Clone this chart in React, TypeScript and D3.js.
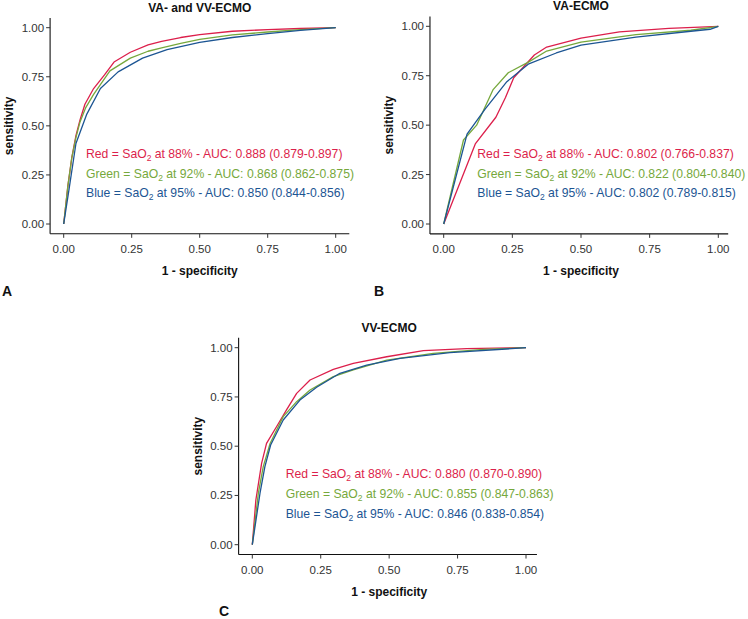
import React from "react";
import * as d3 from "d3";

type Pt = [number, number];

// Panel A: VA- and VV-ECMO
const redA: Pt[] = [[0,0],[0.015,0.19],[0.03,0.34],[0.045,0.45],[0.06,0.53],[0.078,0.61],[0.11,0.69],[0.15,0.76],[0.185,0.825],[0.245,0.875],[0.31,0.912],[0.36,0.93],[0.43,0.95],[0.5,0.965],[0.62,0.982],[0.75,0.99],[0.87,0.996],[1,1]];
const greenA: Pt[] = [[0,0],[0.015,0.19],[0.03,0.34],[0.045,0.44],[0.06,0.52],[0.08,0.59],[0.11,0.66],[0.17,0.78],[0.245,0.845],[0.31,0.88],[0.36,0.897],[0.43,0.92],[0.5,0.94],[0.62,0.963],[0.75,0.978],[0.87,0.99],[1,1]];
const blueA: Pt[] = [[0,0],[0.02,0.18],[0.045,0.41],[0.085,0.56],[0.135,0.69],[0.2,0.775],[0.29,0.845],[0.38,0.888],[0.5,0.925],[0.62,0.95],[0.75,0.97],[0.87,0.986],[1,1]];

// Panel B: VA-ECMO
const redB: Pt[] = [[0,0],[0.115,0.405],[0.19,0.54],[0.225,0.64],[0.255,0.74],[0.33,0.855],[0.375,0.895],[0.5,0.94],[0.64,0.972],[0.82,0.99],[1,1]];
const greenB: Pt[] = [[0,0],[0.072,0.425],[0.12,0.5],[0.18,0.68],[0.235,0.765],[0.31,0.82],[0.375,0.875],[0.5,0.92],[0.7,0.958],[0.9,0.98],[1,1]];
const blueB: Pt[] = [[0,0],[0.085,0.455],[0.15,0.58],[0.23,0.72],[0.31,0.81],[0.41,0.865],[0.5,0.905],[0.7,0.945],[0.9,0.975],[0.97,0.985],[1,1]];

// Panel C: VV-ECMO
const redC: Pt[] = [[0,0],[0.013,0.227],[0.034,0.413],[0.052,0.514],[0.089,0.6],[0.125,0.684],[0.162,0.768],[0.211,0.836],[0.296,0.89],[0.369,0.92],[0.491,0.954],[0.625,0.985],[0.783,0.995],[1,1]];
const greenC: Pt[] = [[0,0],[0.022,0.26],[0.04,0.396],[0.065,0.514],[0.113,0.65],[0.162,0.726],[0.211,0.785],[0.296,0.853],[0.369,0.887],[0.491,0.937],[0.661,0.971],[0.844,0.992],[1,1]];
const blueC: Pt[] = [[0,0],[0.028,0.26],[0.046,0.396],[0.067,0.506],[0.113,0.633],[0.174,0.734],[0.235,0.799],[0.32,0.87],[0.418,0.912],[0.54,0.946],[0.722,0.975],[1,1]];

const ticks = [0, 0.25, 0.5, 0.75, 1];
const tickLabels = ["0.00", "0.25", "0.50", "0.75", "1.00"];

const seriesNames = ["Red", "Green", "Blue"];
const thresholds = ["88%", "92%", "95%"];
const aucA = ["0.888 (0.879-0.897)", "0.868 (0.862-0.875)", "0.850 (0.844-0.856)"];
const aucB = ["0.802 (0.766-0.837)", "0.822 (0.804-0.840)", "0.802 (0.789-0.815)"];
const aucC = ["0.880 (0.870-0.890)", "0.855 (0.847-0.863)", "0.846 (0.838-0.854)"];

const colors = ["#dc1f4b", "#76a83c", "#1c5593"];

const FONT = "'Liberation Sans', Arial, Helvetica, sans-serif";

interface PanelCfg {
  title: string;
  letter: string;
  curves: Pt[][];
  auc: string[];
  x0: number; x1: number;
  y0: number; y1: number;
  xAxisEnd: number;
  legendX: number; legendY: number; legendStep: number;
  letterX: number; letterY: number;
}

const panels: PanelCfg[] = [
  { title: "VA- and VV-ECMO", letter: "A", curves: [redA, greenA, blueA], auc: aucA,
    x0: 63.7, x1: 335.7, y0: 224, y1: 27.7, xAxisEnd: 1.05,
    legendX: 86, legendY: 154, legendStep: 19.5, letterX: 2, letterY: 296 },
  { title: "VA-ECMO", letter: "B", curves: [redB, greenB, blueB], auc: aucB,
    x0: 443.7, x1: 718.3, y0: 224, y1: 26.3, xAxisEnd: 1.036,
    legendX: 477.3, legendY: 154, legendStep: 19.5, letterX: 374, letterY: 296 },
  { title: "VV-ECMO", letter: "C", curves: [redC, greenC, blueC], auc: aucC,
    x0: 252.3, x1: 526, y0: 544.7, y1: 347.7, xAxisEnd: 1.04,
    legendX: 285.7, legendY: 474, legendStep: 20, letterX: 219, letterY: 616 },
];

function Panel({ p }: { p: PanelCfg }) {
  const x = d3.scaleLinear().domain([0, 1]).range([p.x0, p.x1]);
  const y = d3.scaleLinear().domain([0, 1]).range([p.y0, p.y1]);
  const line = d3.line<Pt>().x((d) => x(d[0])).y((d) => y(d[1]));
  const axX = x(-0.05);
  const axY = y(-0.05);
  const tickLen = 4;
  return (
    <g>
      <text x={(x(-0.05) + x(1.05)) / 2} y={y(1.05) - 6} textAnchor="middle" fontFamily={FONT} fontWeight="bold" fontSize={12} fill="#111">{p.title}</text>
      {p.curves.map((c, i) => (
        <path key={i} d={line(c) || ""} fill="none" stroke={colors[i]} strokeWidth={1.3} strokeLinejoin="round" />
      ))}
      <line x1={axX} x2={axX} y1={y(1.05)} y2={axY} stroke="#111" strokeWidth={1.1} />
      <line x1={axX} x2={x(p.xAxisEnd)} y1={axY} y2={axY} stroke="#111" strokeWidth={1.1} />
      {ticks.map((t, i) => (
        <g key={"y" + i}>
          <line x1={axX - tickLen} x2={axX} y1={y(t)} y2={y(t)} stroke="#333" strokeWidth={1} />
          <text x={axX - tickLen - 2} y={y(t)} dy="0.35em" textAnchor="end" fontFamily={FONT} fontSize={11.5} fill="#333">{tickLabels[i]}</text>
        </g>
      ))}
      {ticks.map((t, i) => (
        <g key={"x" + i}>
          <line x1={x(t)} x2={x(t)} y1={axY} y2={axY + tickLen} stroke="#333" strokeWidth={1} />
          <text x={x(t)} y={axY + tickLen + 15} textAnchor="middle" fontFamily={FONT} fontSize={11.5} fill="#333">{tickLabels[i]}</text>
        </g>
      ))}
      <text x={(p.x0 + p.x1) / 2} y={axY + 41} textAnchor="middle" fontFamily={FONT} fontWeight="bold" fontSize={12} fill="#111">1 - specificity</text>
      <text transform={`translate(${axX - 37},${(y(-0.05) + y(1.05)) / 2}) rotate(-90)`} textAnchor="middle" fontFamily={FONT} fontWeight="bold" fontSize={12} fill="#111">sensitivity</text>
      {seriesNames.map((s, i) => (
        <text key={"l" + i} x={p.legendX} y={p.legendY + i * p.legendStep} dy="0.35em" fontFamily={FONT} fontSize={12.2} fill={colors[i]}>
          {s} = SaO<tspan fontSize={8.5} dy={3}>2</tspan><tspan dy={-3}> at {thresholds[i]} - AUC: {p.auc[i]}</tspan>
        </text>
      ))}
      <text x={p.letterX} y={p.letterY} fontFamily={FONT} fontWeight="bold" fontSize={14} fill="#111">{p.letter}</text>
    </g>
  );
}

export default function App() {
  return (
    <svg width={748} height={619} style={{ position: "absolute", left: 0, top: 0, background: "#fff" }}>
      <rect width={748} height={619} fill="#fff" />
      {panels.map((p, i) => <Panel key={i} p={p} />)}
    </svg>
  );
}
